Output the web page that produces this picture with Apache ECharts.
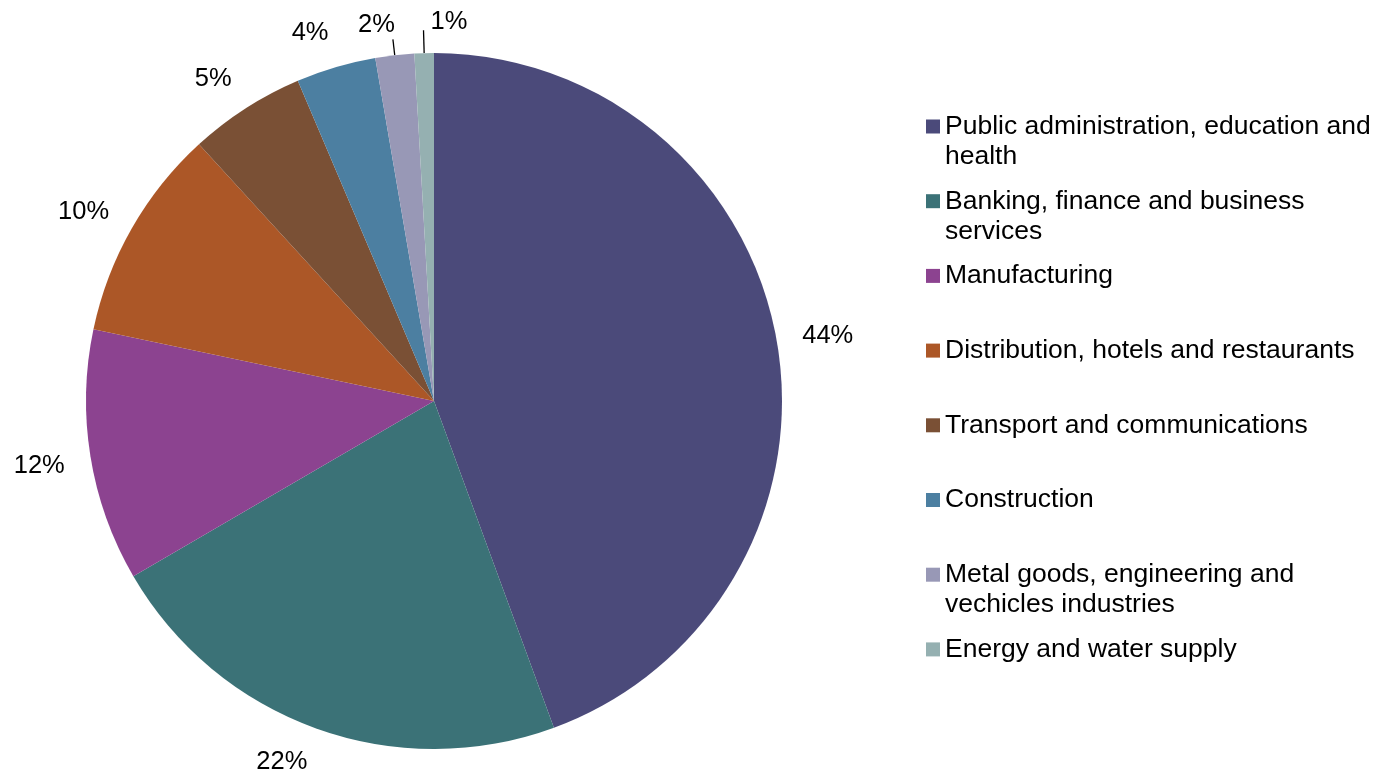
<!DOCTYPE html>
<html><head><meta charset="utf-8">
<script src="https://cdn.jsdelivr.net/npm/echarts@6/dist/echarts.min.js"></script>
<style>html,body{margin:0;padding:0;background:#fff}#c{width:1379px;height:772px}</style>
</head><body><div id="c"></div><script>
const categories = [
  'Public administration, education and health',
  'Banking, finance and business services',
  'Manufacturing',
  'Distribution, hotels and restaurants',
  'Transport and communications',
  'Construction',
  'Metal goods, engineering and vechicles industries',
  'Energy and water supply'
];
const shares = [44.4, 22.2, 11.7, 9.9, 5.4, 3.7, 1.8, 0.9];
const colors = ['#4B4A7A', '#3B7277', '#8C4390', '#AC5727', '#7A5035', '#4C7FA1', '#9898B6', '#95B0B1'];

const W = 1379, H = 772, CX = 434, CY = 401, R = 348, GAP = 26, LABEL_DY = 3;
const FONT = "'Liberation Sans', Arial, Helvetica, sans-serif";
const LEG_FS = 26.5, LEG_LH = 30, LEG_W = 440, LEG_LEFT = 921, LEG_TOP = 106.5, LEG_STEP = 74.7;
const callout = {6: {len: 16, side: 'left'}, 7: {len: 23, side: 'right'}};

const chart = echarts.init(document.getElementById('c'), null, {renderer: 'canvas', width: W, height: H});

function layout(p) {
  const pts = p.labelLinePoints;
  if (!pts) return {};
  const ex = pts[0][0] - CX, ey = pts[0][1] - CY;
  const L = Math.hypot(ex, ey);
  const ux = ex / L, uy = ey / L;
  const rect = p.labelRect;
  const co = callout[p.dataIndex];
  if (co) {
    const sx = CX + ux * R, sy = CY + uy * R;
    const tx = CX + ux * (R + co.len), ty = CY + uy * (R + co.len);
    const line = [[sx, sy], [tx, ty], [tx, ty]];
    if (co.side === 'left') {
      return {x: tx + 2, y: ty - 1, align: 'right', verticalAlign: 'bottom', labelLinePoints: line};
    }
    return {x: tx + 7, y: ty + 5, align: 'left', verticalAlign: 'bottom', labelLinePoints: line};
  }
  const hw = rect.width / 2, hh = rect.height / 2;
  let cx = CX + ux * (R + GAP) + Math.sign(ux) * hw;
  let cy = CY + uy * (R + GAP) + uy * hh;
  if (cy + hh > H) cy = H - hh;
  return {x: cx, y: cy + LABEL_DY, align: 'center', verticalAlign: 'middle'};
}

// measure wrapping of legend names
const mctx = document.createElement('canvas').getContext('2d');
mctx.font = LEG_FS + 'px ' + FONT;
function lineCount(text) {
  const words = text.split(' ');
  let n = 1, cur = '';
  words.forEach(w => {
    const t = cur ? cur + ' ' + w : w;
    if (cur && mctx.measureText(t).width > LEG_W) { n++; cur = w; } else cur = t;
  });
  return n;
}

const legends = categories.map((name, i) => {
  const extra = lineCount(name) - 1;
  return {
    orient: 'vertical',
    left: LEG_LEFT,
    top: LEG_TOP + i * LEG_STEP - extra * LEG_LH,
    itemWidth: 14,
    itemHeight: 14,
    icon: 'rect',
    selectedMode: false,
    formatter: n => '\n'.repeat(extra) + n,
    textStyle: {
      fontFamily: FONT, fontSize: LEG_FS, color: '#000',
      lineHeight: LEG_LH, width: LEG_W, overflow: 'break'
    },
    data: [name]
  };
});

chart.setOption({
  animation: false,
  backgroundColor: '#fff',
  legend: legends,
  series: [{
    type: 'pie',
    center: [CX, CY],
    radius: R,
    startAngle: 90,
    clockwise: true,
    avoidLabelOverlap: false,
    emphasis: {disabled: true},
    label: {
      show: true,
      position: 'outside',
      fontFamily: FONT, fontSize: 25.5, color: '#000',
      formatter: p => Math.round(p.percent) + '%'
    },
    labelLine: {show: true, length: 10, length2: 0, smooth: false, lineStyle: {color: '#000', width: 1.3}},
    labelLayout: layout,
    data: categories.map((name, i) => ({
      name: name,
      value: shares[i],
      itemStyle: {color: colors[i]},
      labelLine: {lineStyle: {opacity: callout[i] ? 1 : 0}}
    }))
  }]
});
</script></body></html>
